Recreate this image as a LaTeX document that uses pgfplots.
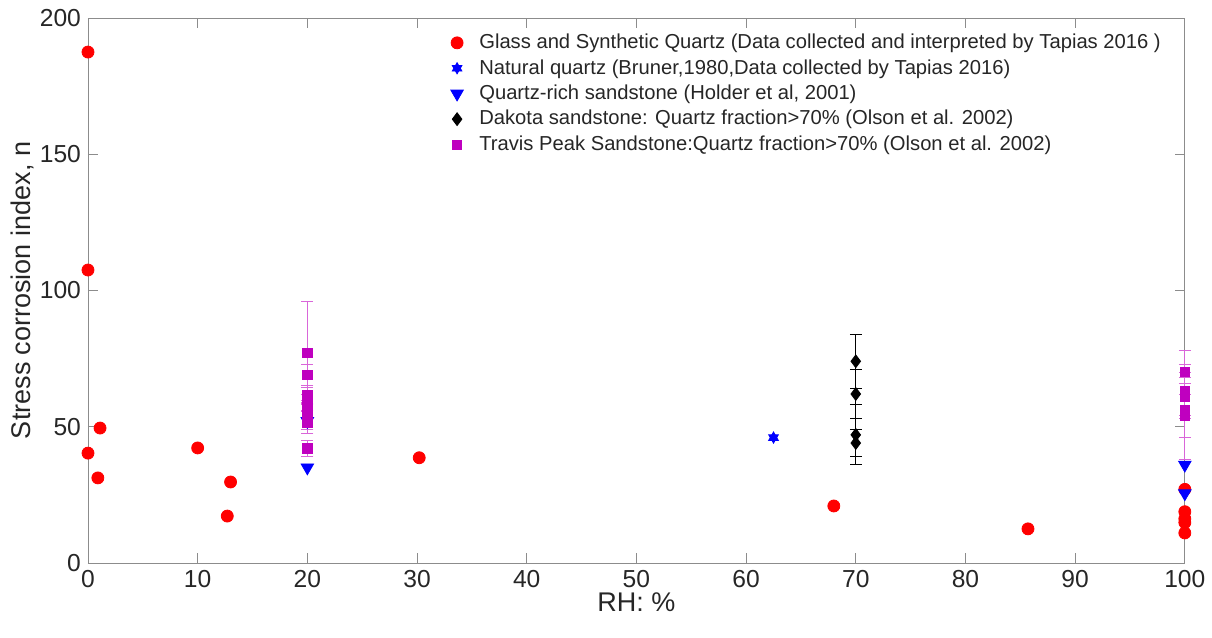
\documentclass[border=0pt]{standalone}
\usepackage{pgfplots}
\pgfplotsset{compat=1.18}
\usepackage{fontspec}
\setmainfont{Liberation Sans}
\usetikzlibrary{plotmarks}
\definecolor{mag}{rgb}{0.75,0,0.75}
\definecolor{axgray}{rgb}{0.55,0.55,0.55}
\definecolor{txt}{rgb}{0.15,0.15,0.15}
\pgfdeclareplotmark{hexstar}{%
  \pgfpathmoveto{\pgfqpointpolar{90}{\pgfplotmarksize}}%
  \pgfpathlineto{\pgfqpointpolar{210}{\pgfplotmarksize}}%
  \pgfpathlineto{\pgfqpointpolar{330}{\pgfplotmarksize}}%
  \pgfpathclose
  \pgfpathmoveto{\pgfqpointpolar{270}{\pgfplotmarksize}}%
  \pgfpathlineto{\pgfqpointpolar{30}{\pgfplotmarksize}}%
  \pgfpathlineto{\pgfqpointpolar{150}{\pgfplotmarksize}}%
  \pgfpathclose
  \pgfusepathqfillstroke
}
\begin{document}
\begin{tikzpicture}
\begin{axis}[
  scale only axis,
  width=548.5pt, height=272.5pt,
  xmin=0, xmax=100, ymin=0, ymax=200,
  xtick={0,10,...,100}, ytick={0,50,...,200},
  tick align=inside,
  major tick length=5pt,
  axis line style={axgray},
  every tick/.style={axgray},
  tick label style={font=\fontsize{12.3}{14}\selectfont, text=txt},
  /pgf/number format/assume math mode=true,
  xlabel={RH: \%}, ylabel={Stress corrosion index, n},
  label style={font=\fontsize{13.5}{16}\selectfont, text=txt},
  xlabel style={yshift=4pt},
  ylabel style={yshift=-4pt},
  clip=false,
  legend style={at={(0.325,0.986)}, anchor=north west, draw=none, fill=none,
    font=\fontsize{10.1}{12}\selectfont, text=txt, row sep=-0.1pt,
    /tikz/every odd column/.append style={column sep=6pt}},
  legend cell align=left,
]
\addplot[only marks, mark=*, mark size=3pt, color=red] coordinates {
(0,187.5) (0,107.5) (0,40.3) (1.1,49.5) (0.9,31.2) (10,42.2) (13.0,29.7)
(12.7,17.2) (30.2,38.6) (68,20.9) (85.7,12.5) (100,27) (100,18.8)
(100,16.2) (100,14.8) (100,11)};
\addlegendentry{Glass and Synthetic Quartz (Data collected and interpreted by Tapias 2016 )}
\addplot[only marks, mark=hexstar, mark size=2.8pt, color=blue] coordinates {(62.5,46)};
\addlegendentry{Natural quartz (Bruner,1980,Data collected by Tapias 2016)}
\addplot[only marks, mark=triangle*, mark size=3.6pt, mark options={rotate=180}, color=blue] coordinates {
(20,35) (20,52) (100,36) (100,25.5)};
\addlegendentry{Quartz-rich sandstone (Holder et al, 2001)}
\addplot[only marks, mark=diamond*, mark size=3.2pt, color=black,
  error bars/.cd, y dir=both, y explicit, error mark options={rotate=90, mark size=3pt, thin},
  error bar style={thin}] coordinates {
(70,74) +- (0,10)
(70,62) +- (0,9)
(70,47) +- (0,11)
(70,44) +- (0,5)};
\addlegendentry{Dakota sandstone: Quartz fraction>70\% (Olson et al. 2002)}
\addplot[only marks, mark=square*, mark size=2.3pt, color=mag,
  error bars/.cd, y dir=both, y explicit, error mark options={rotate=90, mark size=3pt, thin, mag!60},
  error bar style={thin, mag!60}] coordinates {
(20,77) +- (0,19)
(20,69) +- (0,4)
(20,61.5) +- (0,3)
(20,59) +- (0,3)
(20,56.5) +- (0,3)
(20,54) +- (0,5)
(20,51.5) +- (0,4)
(20,42) +- (0,3)
(100,70) +- (0,8)
(100,63) +- (0,10)
(100,61) +- (0,7)
(100,56) +- (0,10)
(100,54) +- (0,16)};
\addlegendentry{Travis Peak Sandstone:Quartz fraction>70\% (Olson et al. 2002)}
\end{axis}
\path ([xshift=-44pt,yshift=-37.5pt]current axis.south west) rectangle ([xshift=13.5pt,yshift=9pt]current axis.north east);
\end{tikzpicture}
\end{document}
